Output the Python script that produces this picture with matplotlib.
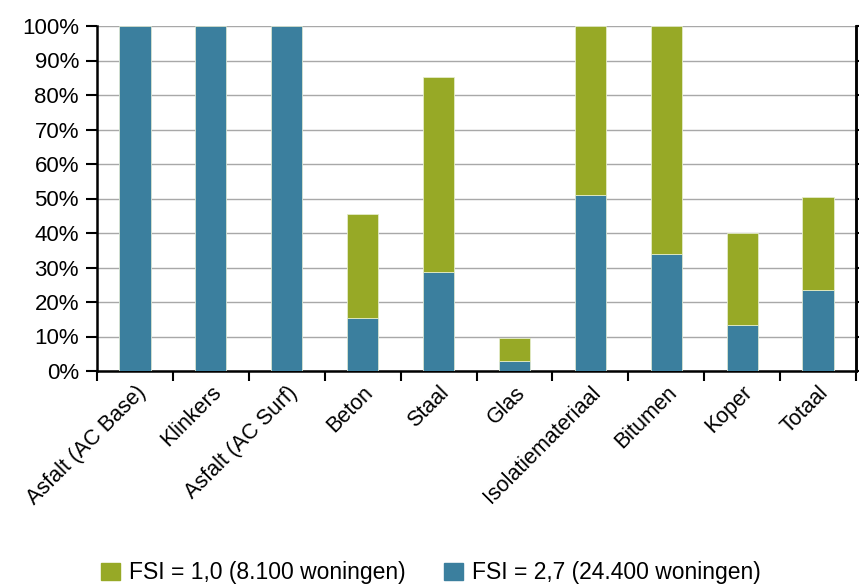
import matplotlib
matplotlib.use("Agg")
import matplotlib.pyplot as plt
import numpy as np
from matplotlib.ticker import FixedLocator, PercentFormatter

plt.rcParams['font.family'] = ['Liberation Sans', 'DejaVu Sans']

categories = ["Asfalt (AC Base)", "Klinkers", "Asfalt (AC Surf)", "Beton", "Staal",
              "Glas", "Isolatiemateriaal", "Bitumen", "Koper", "Totaal"]
# share per category (%), FSI 2,7 is the bottom segment
fsi27 = [100, 100, 100, 15.4, 28.6, 2.9, 51.0, 33.8, 13.3, 23.4]
total = [100, 100, 100, 45.5, 85.2, 9.5, 100, 100, 39.9, 50.4]
fsi10 = [t - b for t, b in zip(total, fsi27)]

GREEN = "#97a926"
BLUE = "#3b7f9e"

fig = plt.figure(figsize=(8.59, 5.86), dpi=100)
ax = fig.add_axes([97 / 859, 1 - 371 / 586, (856 - 97) / 859, (371 - 26) / 586])

x = np.arange(len(categories))
ax.bar(x, fsi27, width=0.41, color=BLUE, edgecolor="#d8e4d0", linewidth=0.6, zorder=3)
ax.bar(x, fsi10, bottom=fsi27, width=0.41, color=GREEN,
       edgecolor=["#e4ecc8" if v > 0 else "none" for v in fsi10], linewidth=0.6, zorder=3)

ax.set_xlim(-0.5, len(categories) - 0.5)
ax.set_ylim(0, 100)
ax.set_yticks(np.arange(0, 101, 10))
ax.yaxis.set_major_formatter(PercentFormatter(decimals=0))
ax.grid(axis="y", color="#a8a8a8", linewidth=1.0, zorder=0)

ax.xaxis.set_major_locator(FixedLocator(np.arange(-0.5, len(categories), 1.0)))
ax.xaxis.set_major_formatter(plt.NullFormatter())
ax.xaxis.set_minor_locator(FixedLocator(x))
ax.set_xticklabels(categories, minor=True, rotation=45, ha="right", va="top",
                   rotation_mode="anchor", fontsize=15.5)
ax.tick_params(axis="x", which="minor", length=0, pad=8)
ax.tick_params(axis="x", which="major", length=7, width=1.5, direction="out")
ax.tick_params(axis="y", length=8, width=1.5, labelsize=16, pad=5)

ax.spines["top"].set_visible(False)
ax.spines["left"].set_linewidth(1.8)
ax.spines["bottom"].set_linewidth(1.8)
ax.spines["right"].set_linewidth(1.8)

# right axis: ticks only
ax2 = ax.twinx()
ax2.set_ylim(0, 100)
ax2.set_yticks(np.arange(0, 101, 10))
ax2.set_yticklabels([])
ax2.tick_params(axis="y", length=4, width=1.5, direction="out")
for s in ["top", "left", "bottom"]:
    ax2.spines[s].set_visible(False)
ax2.spines["right"].set_linewidth(1.8)

h1 = plt.Rectangle((0, 0), 1, 1, color=GREEN)
h2 = plt.Rectangle((0, 0), 1, 1, color=BLUE)
fig.legend([h1, h2], ["FSI = 1,0 (8.100 woningen)", "FSI = 2,7 (24.400 woningen)"],
           loc="center", bbox_to_anchor=(431 / 859, 1 - 573 / 586), ncol=2, frameon=False,
           fontsize=16.5, handlelength=0.8, handleheight=0.8, handletextpad=0.4, columnspacing=1.7)

fig.savefig("out.png", dpi=100)
